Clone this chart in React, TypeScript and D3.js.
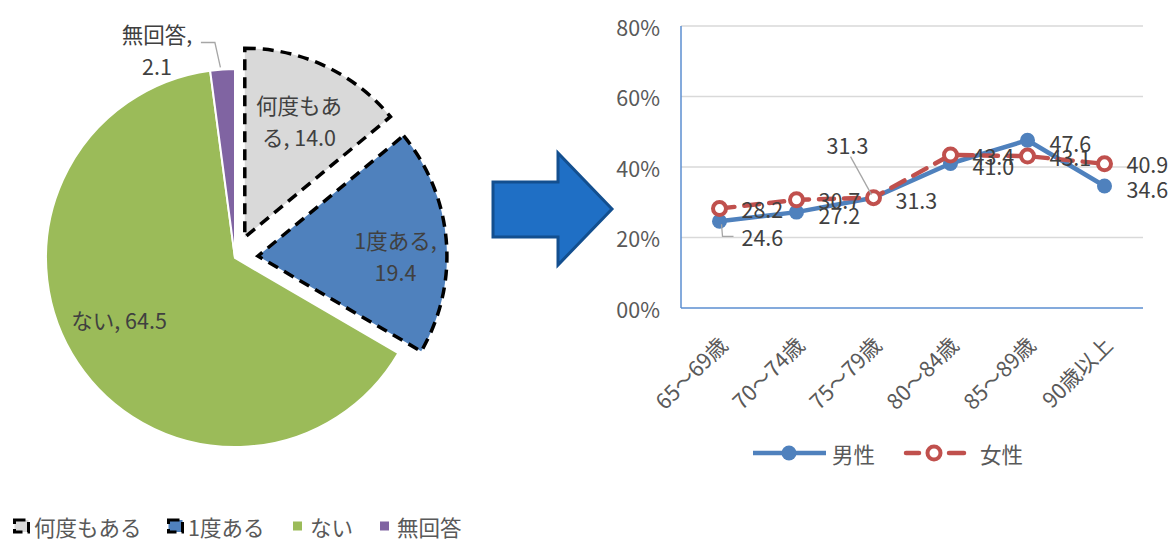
import React from "react";
import * as d3 from "d3";

// ---------- data ----------
const pieCategories = ["何度もある", "1度ある", "ない", "無回答"];
const pieValues = [14.0, 19.4, 64.5, 2.1];
const pieExploded = [true, true, false, false];
const pieLabelBreak = [4, 5, -1, 4];

const ageCategories = ["65～69歳", "70～74歳", "75～79歳", "80～84歳", "85～89歳", "90歳以上"];
const maleValues = [24.6, 27.2, 31.3, 41.0, 47.6, 34.6];
const femaleValues = [28.2, 30.7, 31.3, 43.4, 43.1, 40.9];
const seriesNames = ["男性", "女性"];
const yTickValues = [0, 20, 40, 60, 80];
const yTickLabels = ["00%", "20%", "40%", "60%", "80%"];

// ---------- styles / layout ----------
const FONT = "'Noto Sans CJK JP', 'Noto Sans', sans-serif";
const FS = 21.5;
const TXT = "#404040";
const AX = "#595959";
const pieColors = ["#d9d9d9", "#4f81bd", "#9bbb59", "#8064a2"];
const maleColor = "#4f81bd";
const femaleColor = "#c0504d";

const PIE = { cx: 235, cy: 258, r: 189, explode: 23, labelR: 132 };
const pieLabelNudge = [
  [-2, 3],
  [6, 10],
  [-6, -12],
  [0, 0],
];
const PLOT = { left: 681, right: 1143, top: 26, bottom: 308 };

export default function App() {
  const total = d3.sum(pieValues);
  const pieGen = d3
    .pie<number>()
    .sort(null)
    .value((d) => d)
    .startAngle(0)
    .endAngle(2 * Math.PI);
  const arcs = pieGen(pieValues);
  const arcGen = d3.arc<any>().innerRadius(0).outerRadius(PIE.r);

  const x = d3
    .scaleBand<string>()
    .domain(ageCategories)
    .range([PLOT.left, PLOT.right]);
  const xc = (c: string) => (x(c) as number) + x.bandwidth() / 2;
  const y = d3.scaleLinear().domain([0, 80]).range([PLOT.bottom, PLOT.top]);

  const lineGen = d3
    .line<number>()
    .x((_, i) => xc(ageCategories[i]))
    .y((d) => y(d));

  const dir = (a: number) => [Math.sin(a), -Math.cos(a)];

  const pieText = pieCategories.map((c, i) => {
    const s = `${c}, ${pieValues[i].toFixed(1)}`;
    const b = pieLabelBreak[i];
    return b < 0 ? [s] : [s.slice(0, b).trim(), s.slice(b).trim()];
  });

  const labelDX = 22;
  const maleLabels = maleValues.map((v, i) => ({ v, px: xc(ageCategories[i]), py: y(v) }));
  const femaleLabels = femaleValues.map((v, i) => ({ v, px: xc(ageCategories[i]), py: y(v) }));

  const legendPie = [13, 167, 293, 380];

  return (
    <svg width={1168} height={542} style={{ display: "block", position: "absolute", left: 0, top: 0 }} fontFamily={FONT}>
      <rect width={1168} height={542} fill="#fff" />
      {/* ---------- pie ---------- */}
      {arcs.map((a, i) => {
        const mid = (a.startAngle + a.endAngle) / 2;
        const [dx, dy] = dir(mid);
        const off = pieExploded[i] ? PIE.explode : 0;
        const cx = PIE.cx + dx * off;
        const cy = PIE.cy + dy * off;
        return (
          <path
            key={i}
            d={arcGen(a) as string}
            transform={`translate(${cx},${cy})`}
            fill={pieColors[i]}
            stroke={pieExploded[i] ? "#000" : "#fff"}
            strokeWidth={pieExploded[i] ? 3.5 : 2}
            strokeDasharray={pieExploded[i] ? "11 7" : undefined}
            strokeLinejoin="miter"
          />
        );
      })}
      {arcs.map((a, i) => {
        const mid = (a.startAngle + a.endAngle) / 2;
        const [dx, dy] = dir(mid);
        const off = pieExploded[i] ? PIE.explode : 0;
        const inside = pieValues[i] / total > 0.05;
        let lx: number, ly: number;
        if (inside) {
          lx = PIE.cx + dx * (off + PIE.labelR) + pieLabelNudge[i][0];
          ly = PIE.cy + dy * (off + PIE.labelR) + pieLabelNudge[i][1];
        } else {
          lx = PIE.cx + dx * (PIE.r + 40) - 63;
          ly = PIE.cy + dy * (PIE.r + 40) + 20;
        }
        const lines = pieText[i];
        const lh = 32;
        const y0 = ly - ((lines.length - 1) * lh) / 2;
        const leader = !inside ? (
          <polyline
            points={`${lx + 44},${ly - 7} ${lx + 58},${ly - 7} ${PIE.cx + dx * (PIE.r + 2) - 2},${PIE.cy + dy * (PIE.r + 2)}`}
            fill="none"
            stroke="#a6a6a6"
            strokeWidth={1.3}
          />
        ) : null;
        return (
          <g key={"pl" + i}>
            {leader}
            {lines.map((t, k) => (
              <text key={k} x={lx} y={y0 + k * lh} textAnchor="middle" dominantBaseline="central" fontSize={FS} fill={TXT}>
                {t}
              </text>
            ))}
          </g>
        );
      })}
      {/* pie legend */}
      {pieCategories.map((c, i) => {
        const lx = legendPie[i];
        const ly = 526;
        return (
          <g key={"lg" + i}>
            {pieExploded[i] ? (
              <rect
                x={lx + 1.5}
                y={ly - 6}
                width={14}
                height={12}
                fill={pieColors[i]}
                stroke="#000"
                strokeWidth={3}
                strokeDasharray="11 5"
              />
            ) : (
              <rect x={lx} y={ly - 4.5} width={9} height={9} fill={pieColors[i]} />
            )}
            <text x={lx + (pieExploded[i] ? 21 : 17)} y={ly} dominantBaseline="central" fontSize={FS} fill={AX}>
              {c}
            </text>
          </g>
        );
      })}

      {/* ---------- arrow ---------- */}
      <path
        d="M493,182 L558,182 L558,153 L612,209 L558,265 L558,237 L493,237 Z"
        fill="#1f6fc5"
        stroke="#134f8f"
        strokeWidth={3}
        strokeLinejoin="miter"
      />

      {/* ---------- line chart ---------- */}
      {yTickValues.map((t, i) => (
        <g key={"gy" + i}>
          {t > 0 && <line x1={PLOT.left} x2={PLOT.right} y1={y(t)} y2={y(t)} stroke="#d9d9d9" strokeWidth={1.5} />}
          <text x={660} y={y(t)} textAnchor="end" dominantBaseline="central" fontSize={FS} fill={AX}>
            {yTickLabels[i]}
          </text>
        </g>
      ))}
      <line x1={PLOT.left} x2={PLOT.right} y1={PLOT.bottom} y2={PLOT.bottom} stroke="#5b8ed0" strokeWidth={1.5} />
      <line x1={PLOT.left} x2={PLOT.left} y1={PLOT.top} y2={PLOT.bottom} stroke="#5b8ed0" strokeWidth={1.5} />
      {ageCategories.map((c) => (
        <text
          key={c}
          transform={`translate(${xc(c) + 3},${340}) rotate(-45)`}
          textAnchor="end"
          dominantBaseline="central"
          fontSize={FS}
          fill={AX}
        >
          {c}
        </text>
      ))}

      <path d={lineGen(maleValues) as string} fill="none" stroke={maleColor} strokeWidth={4.5} strokeLinejoin="round" strokeLinecap="round" />
      {maleValues.map((v, i) => (
        <circle key={"m" + i} cx={xc(ageCategories[i])} cy={y(v)} r={7.5} fill={maleColor} />
      ))}
      <path
        d={lineGen(femaleValues) as string}
        fill="none"
        stroke={femaleColor}
        strokeWidth={4.5}
        strokeDasharray="15 10"
        strokeLinecap="round"
        strokeLinejoin="round"
      />
      {femaleValues.map((v, i) => (
        <circle key={"f" + i} cx={xc(ageCategories[i])} cy={y(v)} r={6.5} fill="#fff" stroke={femaleColor} strokeWidth={4} />
      ))}

      {/* data labels */}
      {maleLabels.map((l, i) => {
        const lead = i === 0;
        const lx = l.px + labelDX;
        const ly = l.py + (lead ? 15 : 2);
        return (
          <g key={"ml" + i}>
            {lead && (
              <polyline
                points={`${l.px + 2},${l.py + 3} ${l.px + 3},${ly} ${lx - 8},${ly}`}
                fill="none"
                stroke="#a6a6a6"
                strokeWidth={1.3}
              />
            )}
            <text x={lx} y={ly} dominantBaseline="central" fontSize={FS} fill={TXT}>
              {l.v.toFixed(1)}
            </text>
          </g>
        );
      })}
      {femaleLabels.map((l, i) => {
        const lead = i === 2;
        if (lead) {
          const lx = l.px - 26;
          const ly = l.py - 53;
          return (
            <g key={"fl" + i}>
              <line x1={lx + 3} y1={ly + 12} x2={l.px - 2} y2={l.py - 3} stroke="#a6a6a6" strokeWidth={1.3} />
              <text x={lx} y={ly} textAnchor="middle" dominantBaseline="central" fontSize={FS} fill={TXT}>
                {l.v.toFixed(1)}
              </text>
            </g>
          );
        }
        return (
          <text key={"fl" + i} x={l.px + labelDX} y={l.py} dominantBaseline="central" fontSize={FS} fill={TXT}>
            {l.v.toFixed(1)}
          </text>
        );
      })}

      {/* line legend */}
      <g>
        <line x1={753} x2={826} y1={453} y2={453} stroke={maleColor} strokeWidth={4.5} />
        <circle cx={789} cy={453} r={7.5} fill={maleColor} />
        <text x={832} y={453} dominantBaseline="central" fontSize={FS} fill={AX}>
          {seriesNames[0]}
        </text>
        <line x1={906} x2={919} y1={453} y2={453} stroke={femaleColor} strokeWidth={4.5} strokeLinecap="round" />
        <line x1={949} x2={964} y1={453} y2={453} stroke={femaleColor} strokeWidth={4.5} strokeLinecap="round" />
        <circle cx={934} cy={453} r={6.5} fill="#fff" stroke={femaleColor} strokeWidth={4} />
        <text x={980} y={453} dominantBaseline="central" fontSize={FS} fill={AX}>
          {seriesNames[1]}
        </text>
      </g>
    </svg>
  );
}
